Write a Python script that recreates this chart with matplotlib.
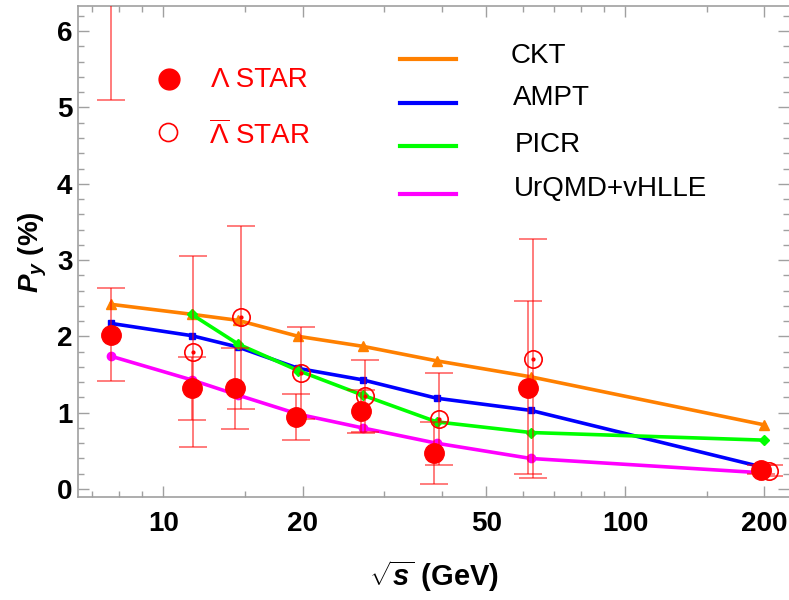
import matplotlib
matplotlib.use('Agg')
import matplotlib.pyplot as plt
from matplotlib.ticker import MultipleLocator, NullFormatter

plt.rcParams['font.family'] = ['Liberation Sans', 'DejaVu Sans']
plt.rcParams['mathtext.fontset'] = 'custom'
plt.rcParams['mathtext.rm'] = 'Liberation Sans'
plt.rcParams['mathtext.it'] = 'Liberation Sans:italic:bold'
plt.rcParams['mathtext.bf'] = 'Liberation Sans:bold'

# collision energies (GeV)
energies = [7.7, 11.5, 14.5, 19.6, 27, 39, 62.4, 200]
picr_energies = [11.5, 14.5, 19.6, 27, 39, 62.4, 200]

# model curves, P_y (%)
ckt = [2.42, 2.29, 2.21, 2.00, 1.87, 1.68, 1.47, 0.84]
ampt = [2.17, 2.01, 1.86, 1.58, 1.43, 1.19, 1.03, 0.28]
picr = [2.29, 1.90, 1.55, 1.23, 0.88, 0.74, 0.64]
urqmd = [1.74, 1.43, 1.23, 0.98, 0.80, 0.60, 0.40, 0.21]

# STAR data (points are slightly shifted in energy in the original)
lam_x = [7.7, 11.5, 14.3, 19.4, 26.7, 38.5, 61.6, 197]
lam_y = [2.02, 1.32, 1.32, 0.94, 1.02, 0.47, 1.33, 0.25]
lam_err = [0.61, 0.41, 0.53, 0.30, 0.28, 0.41, 1.14, 0.06]
alam_x = [7.7, 11.6, 14.7, 19.8, 27.3, 39.5, 63.2, 205]
alam_y = [8.67, 1.80, 2.25, 1.52, 1.22, 0.92, 1.71, 0.24]
alam_err = [3.57, 1.25, 1.20, 0.60, 0.47, 0.60, 1.57, 0.07]

xticks = [10, 20, 50, 100, 200]
xtick_labels = ['10', '20', '50', '100', '200']
xminor = [7, 8, 9, 15, 30, 40, 60, 70, 80, 90, 150]

ORANGE = (1, 0.5, 0)
GREEN = (0, 1, 0)
MAGENTA = (1, 0, 1)
W, H = 789, 600

fig = plt.figure(figsize=(7.89, 6.0), dpi=100)
ax = fig.add_axes([78 / W, 1 - 497 / H, (789 - 78) / W, (497 - 6) / H])
ax.set_xscale('log')

ax.plot(energies, ckt, color=ORANGE, lw=2.6, marker='^', ms=7, zorder=2)
ax.plot(energies, ampt, color='blue', lw=2.6, marker='s', ms=5, zorder=2)
ax.plot(picr_energies, picr, color=GREEN, lw=2.6, marker='D', ms=5, zorder=2)
ax.plot(energies, urqmd, color=MAGENTA, lw=2.6, marker='o', ms=6, zorder=2)

ax.errorbar(lam_x, lam_y, yerr=lam_err, fmt='none', ecolor=(1, 0, 0, 0.65),
            elinewidth=1.1, capsize=10, capthick=1.1, zorder=3)
ax.errorbar(alam_x, alam_y, yerr=alam_err, fmt='none', ecolor=(1, 0, 0, 0.65),
            elinewidth=1.1, capsize=10, capthick=1.1, zorder=3)
ax.plot(lam_x, lam_y, 'o', color='red', ms=14, zorder=5)
ax.plot(alam_x, alam_y, 'o', mfc='none', mec='red', ms=12.5, mew=1.2, zorder=5)
ax.plot(alam_x, alam_y, 'o', color='red', ms=2, zorder=5)

ax.set_xlim(6.53, 226)
ax.set_ylim(-0.105, 6.33)
ax.set_xticks(xticks, labels=xtick_labels)
ax.set_xticks(xminor, minor=True)
ax.xaxis.set_minor_formatter(NullFormatter())
ax.set_yticks(range(7))
ax.yaxis.set_minor_locator(MultipleLocator(0.2))

ax.tick_params(which='both', direction='in', top=True, right=True, color='#a0a0a0', width=1)
ax.tick_params(which='major', length=8, labelsize=20)
ax.tick_params(which='minor', length=4)
ax.tick_params(axis='x', which='major', pad=10)
ax.tick_params(axis='y', which='major', pad=4)
for lab in ax.get_xticklabels() + ax.get_yticklabels():
    lab.set_fontweight('bold')
for side in ['left', 'bottom', 'top']:
    ax.spines[side].set_color('#a0a0a0')
    ax.spines[side].set_linewidth(1.2)
ax.spines['right'].set_visible(False)

fig.text(33 / W, 1 - 252 / H, r'$P_y$ (%)', rotation=90, ha='center', va='center',
         fontsize=20, fontweight='bold')
fig.text(434 / W, 1 - 576 / H, r'$\sqrt{s}$ (GeV)', ha='center', va='center',
         fontsize=21, fontweight='bold')

# STAR legend
ax.plot([169 / W], [1 - 79 / H], 'o', color='red', ms=15, transform=fig.transFigure, clip_on=False)
ax.plot([168 / W], [1 - 132 / H], 'o', mfc='none', mec='red', ms=13, mew=1.2,
        transform=fig.transFigure, clip_on=False)
fig.text(211 / W, 1 - 80 / H, 'Λ STAR', color='red', fontsize=20, va='center')
fig.text(209 / W, 1 - 135 / H, r'$\overline{\Lambda}$ STAR', color='red', fontsize=20, va='center')

# model legend
model_names = ['CKT', 'AMPT', 'PICR', 'UrQMD+vHLLE']
model_colors = [ORANGE, 'blue', GREEN, MAGENTA]
line_y = [59, 103, 146, 194]
text_xy = [(511, 56), (513, 98), (515, 145), (514, 189)]
for name, c, ly, (tx, ty) in zip(model_names, model_colors, line_y, text_xy):
    ax.plot([400 / W, 456 / W], [1 - ly / H, 1 - ly / H], color=c, lw=3,
            transform=fig.transFigure, clip_on=False)
    fig.text(tx / W, 1 - ty / H, name, color='black', fontsize=20, va='center')

fig.savefig('out.png', dpi=100)
